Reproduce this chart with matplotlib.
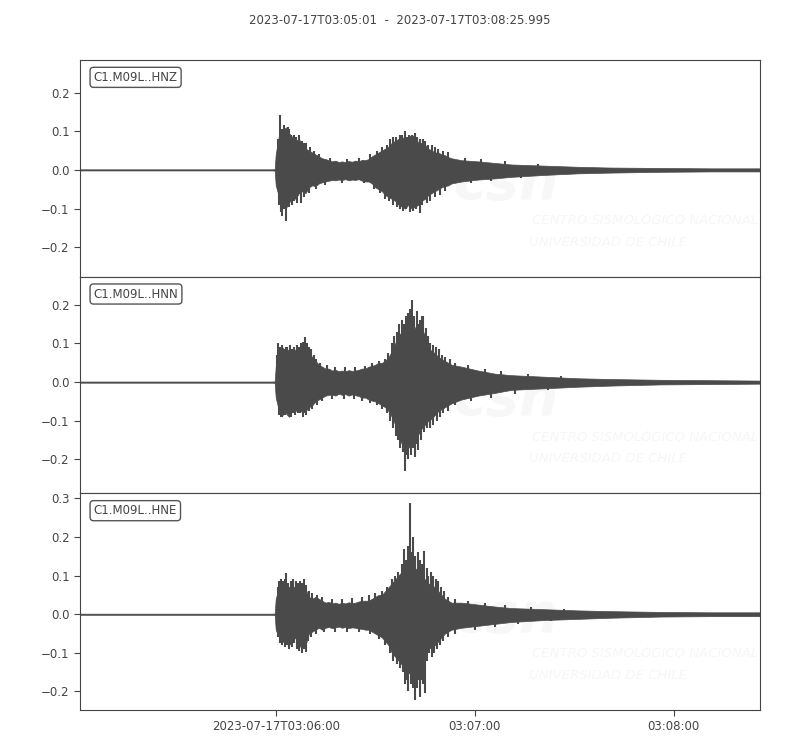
import numpy as np
import matplotlib
matplotlib.use("Agg")
import matplotlib.pyplot as plt

# seconds after 2023-07-17T03:05:01
t_sec = [0, 10, 20, 30, 40, 50, 58, 58.7,
         59, 60, 61, 62, 63, 64, 65, 66, 67, 68,
         69, 70, 71, 72, 73, 74, 75, 76, 77, 78,
         79, 80, 81, 82, 83, 84, 85, 86, 87, 88,
         89, 90, 91, 92, 93, 94, 95, 96, 97, 98,
         99, 100, 101, 102, 103, 104, 105, 106, 107, 108,
         109, 110, 111, 112,
         115, 120, 125, 130, 140, 150, 160, 175, 190, 204.995]

# envelope (upper / lower), per channel
hnz_up = [0.0015] * 7 + [0.002,
          0.04, 0.09, 0.10, 0.11, 0.095, 0.085, 0.075, 0.08, 0.065, 0.055,
          0.05, 0.045, 0.04, 0.035, 0.03, 0.028, 0.025, 0.022, 0.024, 0.02,
          0.022, 0.02, 0.023, 0.021, 0.024, 0.022, 0.026, 0.025, 0.028, 0.035,
          0.04, 0.045, 0.05, 0.055, 0.06, 0.07, 0.075, 0.08, 0.085, 0.08,
          0.085, 0.09, 0.085, 0.07, 0.07, 0.065, 0.055, 0.05, 0.045, 0.045,
          0.04, 0.038, 0.033, 0.03,
          0.025, 0.022, 0.018, 0.014, 0.011, 0.008, 0.006, 0.005, 0.004, 0.004]
hnz_lo = [-0.0015] * 7 + [-0.002,
          -0.04, -0.07, -0.09, -0.10, -0.085, -0.07, -0.075, -0.06, -0.055, -0.06,
          -0.045, -0.04, -0.042, -0.035, -0.032, -0.03, -0.028, -0.026, -0.027, -0.025,
          -0.026, -0.024, -0.027, -0.025, -0.026, -0.024, -0.028, -0.03, -0.03, -0.035,
          -0.045, -0.05, -0.055, -0.065, -0.07, -0.075, -0.08, -0.09, -0.095, -0.10,
          -0.09, -0.10, -0.095, -0.09, -0.08, -0.075, -0.065, -0.06, -0.055, -0.05,
          -0.045, -0.042, -0.04, -0.035,
          -0.03, -0.025, -0.022, -0.018, -0.013, -0.009, -0.007, -0.005, -0.004, -0.004]

hnn_up = [0.0015] * 7 + [0.002,
          0.04, 0.085, 0.09, 0.08, 0.085, 0.075, 0.085, 0.08, 0.095, 0.085,
          0.075, 0.065, 0.055, 0.045, 0.04, 0.035, 0.035, 0.03, 0.032, 0.028,
          0.03, 0.028, 0.031, 0.029, 0.03, 0.032, 0.035, 0.035, 0.04, 0.042,
          0.045, 0.05, 0.05, 0.055, 0.065, 0.08, 0.10, 0.12, 0.13, 0.14,
          0.15, 0.16, 0.14, 0.13, 0.14, 0.12, 0.09, 0.08, 0.075, 0.065,
          0.06, 0.055, 0.05, 0.045,
          0.04, 0.03, 0.022, 0.018, 0.014, 0.01, 0.008, 0.006, 0.005, 0.004]
hnn_lo = [-0.0015] * 7 + [-0.002,
          -0.04, -0.075, -0.085, -0.08, -0.09, -0.07, -0.075, -0.065, -0.08, -0.075,
          -0.065, -0.06, -0.05, -0.045, -0.04, -0.035, -0.033, -0.032, -0.035, -0.03,
          -0.033, -0.031, -0.035, -0.032, -0.034, -0.036, -0.04, -0.04, -0.045, -0.048,
          -0.05, -0.055, -0.06, -0.065, -0.075, -0.09, -0.11, -0.14, -0.16, -0.18,
          -0.17, -0.16, -0.15, -0.135, -0.12, -0.11, -0.10, -0.095, -0.085, -0.075,
          -0.07, -0.065, -0.06, -0.055,
          -0.045, -0.035, -0.028, -0.02, -0.016, -0.012, -0.009, -0.006, -0.005, -0.004]

hne_up = [0.0015] * 7 + [0.002,
          0.04, 0.07, 0.075, 0.08, 0.07, 0.065, 0.075, 0.07, 0.075, 0.065,
          0.045, 0.04, 0.045, 0.04, 0.035, 0.03, 0.032, 0.028, 0.03, 0.027,
          0.03, 0.028, 0.031, 0.029, 0.03, 0.033, 0.035, 0.035, 0.035, 0.04,
          0.045, 0.05, 0.05, 0.06, 0.07, 0.08, 0.09, 0.10, 0.11, 0.12,
          0.13, 0.13, 0.12, 0.11, 0.10, 0.09, 0.08, 0.075, 0.07, 0.06,
          0.05, 0.04, 0.035, 0.03,
          0.03, 0.025, 0.02, 0.016, 0.013, 0.01, 0.008, 0.006, 0.005, 0.005]
hne_lo = [-0.0015] * 7 + [-0.002,
          -0.04, -0.06, -0.07, -0.075, -0.08, -0.07, -0.06, -0.085, -0.08, -0.08,
          -0.05, -0.045, -0.04, -0.035, -0.04, -0.035, -0.033, -0.036, -0.034, -0.032,
          -0.035, -0.033, -0.036, -0.034, -0.035, -0.037, -0.038, -0.04, -0.04, -0.045,
          -0.05, -0.055, -0.06, -0.07, -0.08, -0.10, -0.11, -0.12, -0.13, -0.14,
          -0.15, -0.16, -0.15, -0.14, -0.12, -0.10, -0.09, -0.085, -0.08, -0.07,
          -0.06, -0.05, -0.045, -0.04,
          -0.035, -0.03, -0.025, -0.02, -0.015, -0.012, -0.009, -0.006, -0.005, -0.005]

# single peaks sticking out of the envelope (time, amplitude)
hnz_spike_t = [59.6, 60.4, 60.9, 61.5, 62.0, 62.6, 63.0, 63.6, 64.5, 65.2, 66.0, 66.8, 67.5, 68.2,
               69.3, 70.5, 72.0, 75.5, 80.5, 84.0, 87.5, 89.5, 91.0, 92.5, 93.5, 94.5, 95.3,
               96.5, 97.2, 97.9, 98.6, 99.3, 100.0, 100.9, 101.6, 102.5, 103.3, 104.0, 105.0,
               106.0, 107.0, 108.0, 109.5, 111.0, 116, 121, 128, 138,
               60.0, 60.7, 61.0, 61.6, 62.2, 63.1, 63.8, 64.6, 65.5, 66.5, 67.6, 69.0, 71.0,
               74.0, 79.0, 85.5, 88.5, 90.5, 92.0, 93.2, 94.3, 95.5, 96.6, 97.5, 98.3, 99.5,
               100.3, 101.2, 102.4, 103.2, 104.5, 105.5, 107.0, 108.5, 110.0, 118, 124, 133]
hnz_spike_v = [0.08, 0.142, 0.105, 0.115, 0.10, 0.11, 0.105, 0.09, 0.09, 0.085, 0.09, 0.075, 0.07, 0.07,
               0.06, 0.05, 0.04, 0.03, 0.028, 0.03, 0.04, 0.05, 0.06, 0.065, 0.08, 0.085, 0.085,
               0.09, 0.09, 0.10, 0.085, 0.09, 0.09, 0.095, 0.085, 0.08, 0.08, 0.075, 0.065,
               0.065, 0.06, 0.055, 0.05, 0.045, 0.032, 0.028, 0.022, 0.016,
               -0.09, -0.11, -0.12, -0.10, -0.131, -0.095, -0.09, -0.08, -0.085, -0.085, -0.07, -0.06, -0.05,
               -0.04, -0.035, -0.035, -0.05, -0.06, -0.075, -0.08, -0.09, -0.095, -0.10, -0.105, -0.10, -0.11,
               -0.105, -0.10, -0.112, -0.09, -0.085, -0.08, -0.07, -0.065, -0.055, -0.035, -0.03, -0.02]

hnn_spike_t = [59.5, 59.8, 60.3, 60.8, 61.5, 62.0, 62.5, 63.2, 64.0, 64.6, 65.3, 66.0, 66.5, 67.2,
               67.7, 68.3, 68.9, 69.5, 70.5, 71.2, 72.5, 74.5, 77.0, 80.0, 83.0, 86.0, 88.0,
               90.0, 91.8, 93.0, 94.0, 94.7, 95.5, 96.2, 97.0, 97.6, 98.3, 99.0, 99.5, 100.2,
               100.8, 101.5, 102.0, 102.5, 103.0, 103.5, 104.3, 105.0, 105.6, 106.5, 107.3,
               108.2, 109.0, 110.0, 111.5, 113.0, 117, 122, 127, 135, 145,
               60.0, 60.5, 61.0, 61.8, 62.5, 63.5, 64.2, 64.8, 65.6, 66.4, 67.3, 68.0, 69.0,
               70.0, 71.5, 73.0, 76.0, 79.5, 82.5, 85.0, 87.5, 89.5, 91.0, 92.5, 93.5, 94.5,
               95.3, 96.0, 96.5, 97.3, 98.1, 98.6, 99.0, 99.8, 100.5, 101.0, 101.7, 102.0,
               102.8, 103.6, 104.5, 105.5, 106.5, 107.5, 108.5, 109.5, 111.0, 113.0, 118, 124, 131, 141]
hnn_spike_v = [0.07, 0.10, 0.09, 0.095, 0.085, 0.09, 0.092, 0.095, 0.085, 0.09, 0.095, 0.09, 0.10, 0.105,
               0.118, 0.10, 0.09, 0.085, 0.07, 0.06, 0.05, 0.045, 0.04, 0.04, 0.038, 0.042, 0.05,
               0.055, 0.06, 0.075, 0.10, 0.12, 0.13, 0.15, 0.16, 0.15, 0.17, 0.18, 0.19, 0.213,
               0.17, 0.185, 0.15, 0.16, 0.17, 0.17, 0.14, 0.12, 0.10, 0.095, 0.09,
               0.085, 0.07, 0.065, 0.06, 0.05, 0.045, 0.035, 0.03, 0.022, 0.016,
               -0.085, -0.09, -0.09, -0.085, -0.08, -0.09, -0.08, -0.085, -0.08, -0.08, -0.09, -0.085, -0.075,
               -0.07, -0.06, -0.05, -0.045, -0.045, -0.045, -0.05, -0.055, -0.06, -0.07, -0.08, -0.10, -0.12,
               -0.14, -0.15, -0.17, -0.18, -0.229, -0.19, -0.20, -0.19, -0.17, -0.195, -0.16, -0.175,
               -0.15, -0.13, -0.12, -0.12, -0.11, -0.10, -0.09, -0.08, -0.075, -0.06, -0.05, -0.04, -0.03, -0.02]

hne_spike_t = [59.6, 60.0, 60.5, 61.2, 61.8, 62.2, 62.8, 63.5, 64.2, 65.0, 65.6, 66.3, 67.0, 67.5,
               68.2, 69.0, 70.0, 71.5, 73.0, 76.0, 79.0, 82.0, 85.0, 87.0, 89.0, 91.0, 92.5,
               94.0, 95.0, 96.0, 97.0, 97.8, 98.3, 98.8, 99.2, 99.6, 100.1, 100.5, 101.0, 101.8,
               102.5, 103.2, 103.8, 104.5, 105.0, 105.8, 106.5, 107.2, 108.0, 108.8, 109.6,
               111.0, 113.0, 117, 122, 128, 136, 146,
               59.8, 60.3, 61.0, 61.8, 62.5, 63.0, 63.8, 64.5, 65.3, 66.0, 66.8, 67.4, 68.0,
               68.6, 69.5, 71.0, 73.5, 77.0, 80.5, 84.0, 87.5, 90.0, 92.0, 93.5, 94.5, 95.5,
               96.5, 97.3, 98.0, 98.5, 99.0, 99.8, 100.4, 100.9, 101.5, 102.0, 102.4, 103.0,
               103.5, 104.0, 104.6, 105.3, 106.0, 106.8, 107.5, 108.5, 109.5, 111.0, 113.0,
               119, 125, 132, 142]
hne_spike_v = [0.07, 0.085, 0.09, 0.085, 0.09, 0.108, 0.08, 0.085, 0.09, 0.085, 0.08, 0.085, 0.08, 0.09,
               0.075, 0.06, 0.055, 0.05, 0.045, 0.04, 0.04, 0.042, 0.045, 0.05, 0.055, 0.06, 0.07,
               0.09, 0.10, 0.11, 0.13, 0.17, 0.14, 0.177, 0.15, 0.287, 0.16, 0.20, 0.15, 0.16,
               0.14, 0.13, 0.165, 0.12, 0.10, 0.11, 0.10, 0.09, 0.085, 0.07, 0.06,
               0.045, 0.04, 0.035, 0.03, 0.024, 0.018, 0.014,
               -0.06, -0.075, -0.08, -0.085, -0.08, -0.09, -0.085, -0.075, -0.09, -0.095, -0.10, -0.09, -0.099,
               -0.07, -0.06, -0.05, -0.045, -0.045, -0.045, -0.045, -0.05, -0.065, -0.08, -0.10, -0.12, -0.13,
               -0.14, -0.15, -0.18, -0.17, -0.20, -0.18, -0.19, -0.221, -0.19, -0.17, -0.215, -0.17,
               -0.18, -0.205, -0.12, -0.10, -0.11, -0.10, -0.09, -0.08, -0.07, -0.06, -0.05,
               -0.04, -0.032, -0.025, -0.018]

channels = ["C1.M09L..HNZ", "C1.M09L..HNN", "C1.M09L..HNE"]
ylims = [(-0.276, 0.284), (-0.288, 0.273), (-0.248, 0.313)]
tick_pos = [59, 119, 179]
tick_labels = ["2023-07-17T03:06:00", "03:07:00", "03:08:00"]
title = "2023-07-17T03:05:01  -  2023-07-17T03:08:25.995"

ups = [hnz_up, hnn_up, hne_up]
los = [hnz_lo, hnn_lo, hne_lo]
spike_ts = [hnz_spike_t, hnn_spike_t, hne_spike_t]
spike_vs = [hnz_spike_v, hnn_spike_v, hne_spike_v]

wave_col = "#4a4a4a"
txt_col = "#444444"

fig, axes = plt.subplots(3, 1, figsize=(8, 7.5), dpi=100, sharex=True)
fig.subplots_adjust(left=0.1, right=0.95, top=0.92, bottom=0.0533, hspace=0)
fig.suptitle(title, y=0.982, fontsize=8.5, color=txt_col)

for i, ax in enumerate(axes):
    # faint watermark
    ax.text(0.55, 0.43, "csn", transform=ax.transAxes, fontsize=40, fontweight="bold",
            style="italic", color="#f7f7f7", va="center", ha="left", zorder=0, clip_on=True)
    ax.text(0.665, 0.26, "CENTRO SISMOLÓGICO NACIONAL", transform=ax.transAxes,
            fontsize=9.5, style="italic", color="#f6f6f6", va="center", zorder=0, clip_on=True)
    ax.text(0.66, 0.16, "UNIVERSIDAD DE CHILE", transform=ax.transAxes,
            fontsize=9.5, style="italic", color="#f6f6f6", va="center", zorder=0, clip_on=True)

    ax.fill_between(t_sec, los[i], ups[i], color=wave_col, lw=0.5, zorder=2)
    ax.vlines(spike_ts[i], 0, spike_vs[i], color=wave_col, lw=1.5, zorder=2)

    ax.set_ylim(*ylims[i])
    ax.set_xlim(0, 204.995)
    ax.text(0.02, 0.92, channels[i], transform=ax.transAxes, fontsize=8.5,
            color=txt_col, va="center", ha="left", zorder=5,
            bbox=dict(boxstyle="round,pad=0.3", fc="white", ec="#555555", lw=1))

    for s in ax.spines.values():
        s.set_color("#444444")
    ax.tick_params(axis="both", labelsize=8.5, colors=txt_col, length=4, direction="out")
    ax.tick_params(axis="both", color="#444444")
    ax.yaxis.set_major_locator(matplotlib.ticker.MultipleLocator(0.1))

axes[-1].set_xticks(tick_pos)
axes[-1].set_xticklabels(tick_labels)

plt.savefig("out.png", dpi=100)
